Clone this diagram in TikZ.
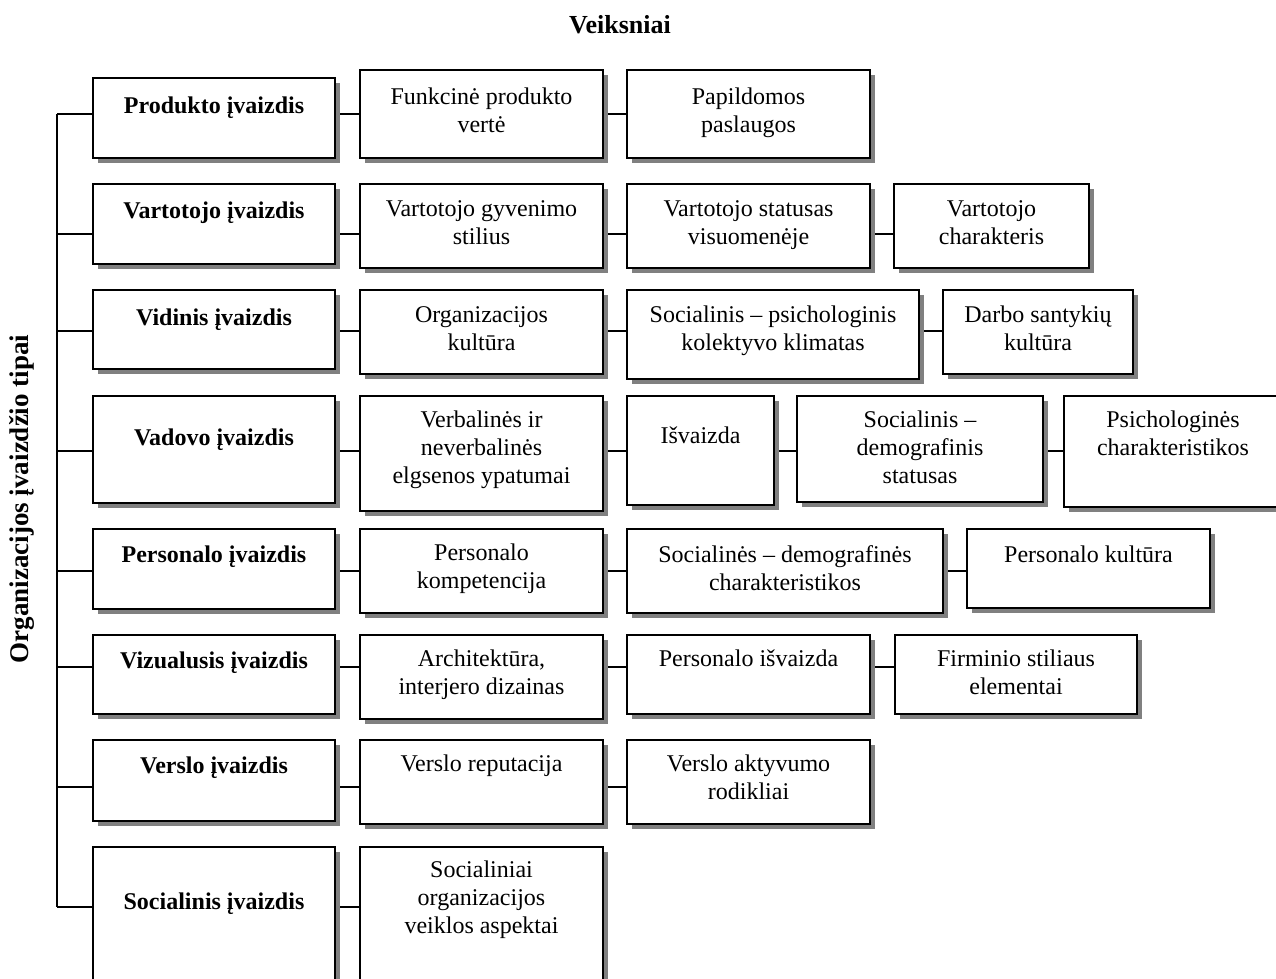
\documentclass[tikz,border=0pt]{standalone}
\usepackage{fontspec}
\setmainfont{Liberation Serif}
\usetikzlibrary{shadows}
\definecolor{shadowgray}{RGB}{128,128,128}
\tikzset{
  box/.style={draw, line width=2pt, fill=white, inner sep=0pt, anchor=north west,
    drop shadow={shadow xshift=5pt, shadow yshift=-5pt, fill=shadowgray, opacity=1}},
  txt/.style={inner sep=0pt, anchor=base, font=\fontsize{24}{28}\selectfont},
  conn/.style={line width=2pt},
}
% name, x1, y1, x2, y2, first baseline below top, text
\newcommand\cell[7]{%
  \node[box, minimum width={#4-#2}, minimum height={#5-#3}] (#1) at (#2,#3) {};
  \node[txt] (#1-t) at ([yshift=-#6]#1.north) {\parbox[t]{400pt}{\centering #7}};
}
\begin{document}
\begin{tikzpicture}[x=1pt, y=-1pt]
\path[use as bounding box, clip] (0,0) rectangle (1276,978);
\fill[white] (0,0) rectangle (1276,978);

\node[txt, font=\fontsize{26}{30}\selectfont\bfseries] (title) at (620,33) {Veiksniai};
\node[txt, anchor=center, rotate=90, font=\fontsize{27}{30}\selectfont\bfseries] (side) at (22,499) {Organizacijos įvaizdžio tipai};

% row connector levels
\coordinate (y1) at (57,114);
\coordinate (y2) at (57,234);
\coordinate (y3) at (57,331);
\coordinate (y4) at (57,451);
\coordinate (y5) at (57,571);
\coordinate (y6) at (57,667);
\coordinate (y7) at (57,787);
\coordinate (y8) at (57,907);

% connectors (drawn first, boxes sit on top)
\draw[conn] (y1) -- (y8);
\foreach \r in {1,...,8} {\draw[conn] (y\r) -- (y\r -| 92,0);}
\draw[conn] (y1 -| 334,0) -- (y1 -| 869,0);
\draw[conn] (y2 -| 334,0) -- (y2 -| 1088,0);
\draw[conn] (y3 -| 334,0) -- (y3 -| 1132,0);
\draw[conn] (y4 -| 334,0) -- (y4 -| 1270,0);
\draw[conn] (y5 -| 334,0) -- (y5 -| 1209,0);
\draw[conn] (y6 -| 334,0) -- (y6 -| 1136,0);
\draw[conn] (y7 -| 334,0) -- (y7 -| 869,0);
\draw[conn] (y8 -| 334,0) -- (y8 -| 602,0);

% row 1
\cell{r1a}{92}{77}{334}{157}{36}{\bfseries Produkto įvaizdis}
\cell{r1b}{359}{69}{602}{157}{35}{Funkcinė produkto\\vertė}
\cell{r1c}{626}{69}{869}{157}{35}{Papildomos\\paslaugos}
% row 2
\cell{r2a}{92}{183}{334}{263}{35}{\bfseries Vartotojo įvaizdis}
\cell{r2b}{359}{183}{602}{267}{33}{Vartotojo gyvenimo\\stilius}
\cell{r2c}{626}{183}{869}{267}{33}{Vartotojo statusas\\visuomenėje}
\cell{r2d}{893}{183}{1088}{267}{33}{Vartotojo\\charakteris}
% row 3
\cell{r3a}{92}{289}{334}{368}{36}{\bfseries Vidinis įvaizdis}
\cell{r3b}{359}{289}{602}{373}{33}{Organizacijos\\kultūra}
\cell{r3c}{626}{289}{918}{378}{33}{Socialinis – psichologinis\\kolektyvo klimatas}
\cell{r3d}{942}{289}{1132}{373}{33}{Darbo santykių\\kultūra}
% row 4
\cell{r4a}{92}{395}{334}{502}{50}{\bfseries Vadovo įvaizdis}
\cell{r4b}{359}{395}{602}{510}{32}{Verbalinės ir\\neverbalinės\\elgsenos ypatumai}
\cell{r4c}{626}{395}{773}{504}{48}{Išvaizda}
\cell{r4d}{796}{395}{1042}{501}{32}{Socialinis –\\demografinis\\statusas}
\cell{r4e}{1063}{395}{1281}{506}{32}{Psichologinės\\charakteristikos}
% row 5
\cell{r5a}{92}{528}{334}{608}{34}{\bfseries Personalo įvaizdis}
\cell{r5b}{359}{528}{602}{612}{32}{Personalo\\kompetencija}
\cell{r5c}{626}{528}{942}{612}{34}{Socialinės – demografinės\\charakteristikos}
\cell{r5d}{966}{528}{1209}{607}{34}{Personalo kultūra}
% row 6
\cell{r6a}{92}{634}{334}{713}{34}{\bfseries Vizualusis įvaizdis}
\cell{r6b}{359}{634}{602}{718}{32}{Architektūra,\\interjero dizainas}
\cell{r6c}{626}{634}{869}{713}{32}{Personalo išvaizda}
\cell{r6d}{894}{634}{1136}{713}{32}{Firminio stiliaus\\elementai}
% row 7
\cell{r7a}{92}{739}{334}{820}{34}{\bfseries Verslo įvaizdis}
\cell{r7b}{359}{739}{602}{823}{32}{Verslo reputacija}
\cell{r7c}{626}{739}{869}{823}{32}{Verslo aktyvumo\\rodikliai}
% row 8
\cell{r8a}{92}{846}{334}{1000}{63}{\bfseries Socialinis įvaizdis}
\cell{r8b}{359}{846}{602}{1000}{31}{Socialiniai\\organizacijos\\veiklos aspektai}
\end{tikzpicture}
\end{document}
